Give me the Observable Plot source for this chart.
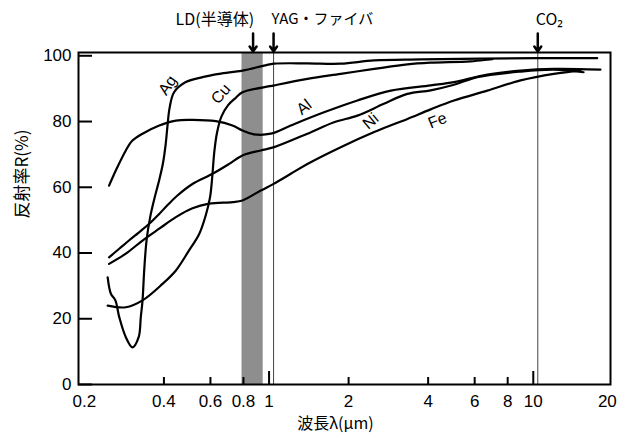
<!DOCTYPE html>
<html><head><meta charset="utf-8">
<script src="https://cdn.jsdelivr.net/npm/d3@7"></script>
<script src="https://cdn.jsdelivr.net/npm/@observablehq/plot@0.6"></script>
<style>
html,body{margin:0;padding:0;background:#fff;}
#chart{width:619px;height:439px;}
</style></head><body><div id="chart"></div>
<script>
// ---- data (wavelength in µm, reflectance in %) ----
const agWl = [0.245,0.252,0.262,0.271,0.287,0.304,0.321,0.327,0.332,0.337,0.344,0.355,0.368,0.382,0.396,0.406,0.413,0.420,0.437,0.484,0.560,0.647,0.793,0.957,1.045,1.397,1.867,2.50,3.75,10.36,17.46];
const agR  = [32.6,27.6,25.6,20.5,14.4,11.3,14.4,20.5,25.6,35.0,44.0,51.0,56.5,61.5,67.0,73.0,79.0,84.0,88.9,92.0,93.5,94.5,95.5,97.0,97.6,97.7,97.6,98.6,98.9,99.3,99.3];

const cuWl = [0.245,0.287,0.332,0.395,0.444,0.498,0.544,0.576,0.598,0.610,0.620,0.635,0.660,0.700,0.748,0.793,1.045,1.397,1.867,2.50,3.34,4.09,5.79,7.0];
const cuR  = [24.0,23.5,25.6,30.6,34.7,40.8,45.8,51.5,57.0,63.5,70.5,76.5,81.5,85.0,87.2,88.9,91.0,93.0,94.5,96.0,97.4,97.9,98.3,99.0];

const alWl = [0.248,0.263,0.287,0.304,0.332,0.384,0.444,0.513,0.629,0.727,0.793,0.877,1.015,1.208,1.614,2.16,2.89,4.09,5.01,6.70,8.95,11.96,17.96];
const alR  = [60.5,65.1,71.2,74.2,76.3,78.8,80.3,80.5,80.1,78.8,77.3,76.1,76.3,78.8,82.8,86.4,89.4,91.0,92.0,94.3,95.5,96.0,95.8];

const niWl = [0.248,0.271,0.295,0.322,0.352,0.384,0.413,0.450,0.513,0.611,0.706,0.793,0.930,1.045,1.397,1.761,2.16,2.72,3.34,4.09,5.01,6.14,8.95,11.96,15.5];
const niR  = [38.7,41.3,43.8,46.3,48.9,51.9,54.6,57.5,61.0,64.1,67.1,69.7,71.2,72.2,76.3,79.8,81.8,85.4,88.4,89.5,91.2,93.5,95.2,95.8,95.0];

const feWl = [0.248,0.287,0.332,0.384,0.444,0.513,0.593,0.727,0.793,0.930,1.045,1.208,1.397,1.867,2.50,3.34,4.09,5.01,6.70,8.95,11.96,15.1];
const feR  = [36.7,39.8,43.8,47.4,50.9,53.6,55.0,55.5,56.0,59.0,61.1,64.1,67.1,72.2,76.8,80.8,83.7,86.4,89.4,92.5,94.5,95.5];

const metals = ["Ag","Cu","Al","Ni","Fe"];
const labelWl = [0.413,0.657,1.357,2.425,4.34];
const labelR  = [91.0,88.4,84.4,80.1,80.3];
const labelAngle = [-55,-50,-38,-40,-22];

const ldBand = [0.79, 0.95];          // LD(半導体) band
const yagWl = 1.04;                    // YAG line
const co2Wl = 10.4;                    // CO2 line
const ldArrowWl = 0.87;

const xMinorTicks = [0.4,0.6,0.8,2,4,6,8];
const xMajorTicks = [1,10];
const xLabelValues = [0.2,0.4,0.6,0.8,1,2,4,6,8,10,20];
const xLabels = ["0.2","0.4","0.6","0.8","1","2","4","6","8","10","20"];
const yTicks = [0,20,40,60,80,100];

const xTitle = "波長λ(μm)";
const yTitle = "反射率R(%)";
const annLD = "LD(半導体)";
const annYAG = "YAG・ファイバ";
const annCO2 = "CO₂";

// ---- layout ----
const W = 619, H = 439, mL = 78, mR = 9, mT = 52, mB = 55;
const xDom = [0.19, 19.6], yDom = [0, 101];
const pxPerDec = (W - mL - mR) / Math.log10(xDom[1] / xDom[0]);
const unitsPerPx = (yDom[1] - yDom[0]) / (H - mT - mB);
const yTickEnd = xDom[0] * Math.pow(10, 14 / pxPerDec);

const numFont = "'Liberation Sans Narrow','Arial Narrow','Liberation Sans',Arial,sans-serif";
const cjkFont = "'Noto Sans CJK JP','Noto Sans',sans-serif";

const wls = [agWl, cuWl, alWl, niWl, feWl];
const rs = [agR, cuR, alR, niR, feR];
const curveData = metals.flatMap((m, k) => wls[k].map((w, i) => ({metal: m, wl: w, r: rs[k][i]})));
const curveLabels = metals.map((m, i) => ({name: m, x: labelWl[i], y: labelR[i], rot: labelAngle[i]}));
const xLab = xLabelValues.map((v, i) => ({v, t: xLabels[i]}));
const lastLab = xLab.length - 1;

const chart = Plot.plot({
  width: W, height: H,
  marginLeft: mL, marginRight: mR, marginTop: mT, marginBottom: mB,
  x: {type: "log", domain: xDom, axis: null},
  y: {domain: yDom, axis: null},
  style: {background: "white", color: "black", fontFamily: "'Liberation Sans',Arial,sans-serif"},
  marks: [
    Plot.rect([{x1: ldBand[0], x2: ldBand[1]}], {x1: "x1", x2: "x2", y1: yDom[0], y2: yDom[1], fill: "#8e8e8e"}),
    Plot.ruleX([yagWl, co2Wl], {x: d => d, stroke: "#444", strokeWidth: 1}),
    Plot.line(curveData, {x: "wl", y: "r", z: "metal", stroke: "black", strokeWidth: 2.2, curve: "catmull-rom"}),
    Plot.text(curveLabels, {x: "x", y: "y", text: "name", rotate: "rot", fontSize: 16, fill: "black"}),
    Plot.ruleX(xMinorTicks, {x: d => d, y1: 0, y2: 7 * unitsPerPx, strokeWidth: 2}),
    Plot.ruleX(xMajorTicks, {x: d => d, y1: 0, y2: 13 * unitsPerPx, strokeWidth: 2}),
    Plot.ruleY(yTicks, {y: d => d, x1: xDom[0], x2: yTickEnd, strokeWidth: 2}),
    Plot.text(yTicks, {x: xDom[0], y: d => d, text: d => String(d), textAnchor: "end", dx: -7, fontSize: 17, fontFamily: numFont}),
    Plot.text(xLab.slice(0, lastLab), {x: "v", y: 0, text: "t", dy: 17, fontSize: 17, fontFamily: numFont}),
    Plot.text(xLab.slice(lastLab), {x: "v", y: 0, text: "t", dy: 17, dx: 4, textAnchor: "end", fontSize: 17, fontFamily: numFont}),
    Plot.frame({stroke: "black", strokeWidth: 2}),
    Plot.arrow([ldArrowWl, yagWl, co2Wl], {x1: d => d, x2: d => d, y1: yDom[1] + 19 * unitsPerPx, y2: yDom[1] + 1 * unitsPerPx, stroke: "black", strokeWidth: 2.5, headLength: 7, headAngle: 70}),
    Plot.text([annLD], {x: ldArrowWl, y: yDom[1], text: d => d, dy: -33, dx: 1, textAnchor: "end", fontSize: 16, fontFamily: cjkFont}),
    Plot.text([annYAG], {x: yagWl, y: yDom[1], text: d => d, dy: -33, dx: -2, textAnchor: "start", fontSize: 15, fontFamily: cjkFont}),
    Plot.text([annCO2], {x: co2Wl, y: yDom[1], text: d => d, dy: -33, dx: -2, textAnchor: "start", fontSize: 16, fontFamily: cjkFont}),
    Plot.text([xTitle], {frameAnchor: "bottom", text: d => d, dy: 44, dx: -9, fontSize: 16, fontFamily: cjkFont}),
    Plot.text([yTitle], {frameAnchor: "left", text: d => d, dx: -56, rotate: -90, fontSize: 17, fontFamily: cjkFont})
  ]
});
document.getElementById("chart").appendChild(chart);
</script>
</body></html>
